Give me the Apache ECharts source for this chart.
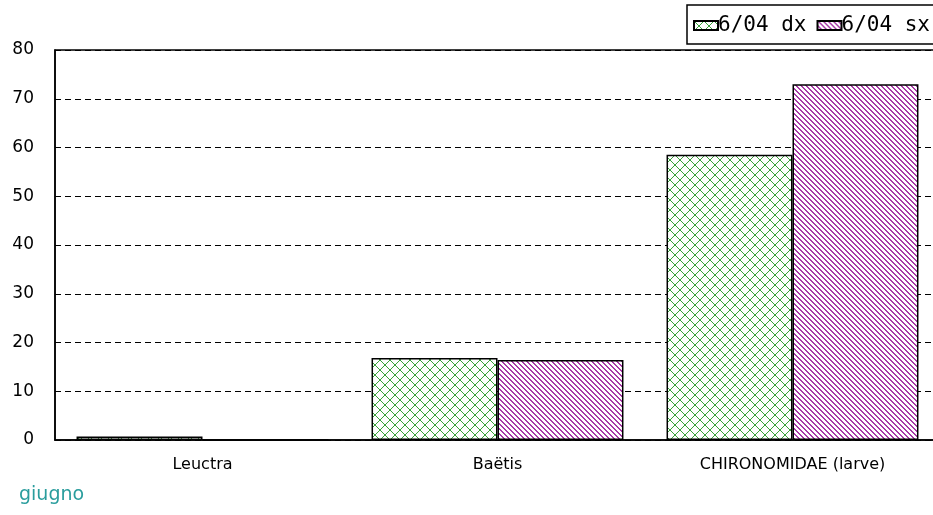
<!DOCTYPE html>
<html>
<head>
<meta charset="utf-8">
<script src="https://cdn.jsdelivr.net/npm/echarts@6/dist/echarts.min.js"></script>
<style>
  html, body { margin: 0; padding: 0; background: #fff; }
  #chart { width: 933px; height: 515px; }
</style>
</head>
<body>
<div id="chart"></div>
<script>
// dati
const categories = ['Leuctra', 'Baëtis', 'CHIRONOMIDAE (larve)'];
const dx = [0.7, 16.8, 58.5];
const sx = [0, 16.4, 73.0];
const yTicks = { min: 0, max: 80, step: 10 };

// pattern tratteggio (stile Excel)
function makeCross() {
    const c = document.createElement('canvas');
    c.width = 10; c.height = 10;
    const ctx = c.getContext('2d');
    ctx.fillStyle = '#fff';
    ctx.fillRect(0, 0, 10, 10);
    ctx.fillStyle = '#3aa23a';
    for (let i = 0; i < 10; i++) {
        ctx.fillRect(i, i, 1, 1);
        ctx.fillRect(9 - i, i, 1, 1);
    }
    return c;
}
function makeDiag() {
    const c = document.createElement('canvas');
    c.width = 5; c.height = 5;
    const ctx = c.getContext('2d');
    ctx.fillStyle = '#fff';
    ctx.fillRect(0, 0, 5, 5);
    ctx.fillStyle = '#a83aa8';
    for (let i = 0; i < 5; i++) {
        ctx.fillRect(i, i, 1, 1);
        ctx.fillRect((i + 1) % 5, i, 1, 1);
    }
    return c;
}

const chart = echarts.init(document.getElementById('chart'), null, { renderer: 'canvas' });

const option = {
    animation: false,
    backgroundColor: '#fff',
    grid: {
        left: 55, top: 50, width: 885, height: 390,
        outerBoundsMode: 'none',
        show: true, borderColor: '#000', borderWidth: 1.5
    },
    legend: {
        left: 687,
        top: 5,
        width: 320,
        orient: 'horizontal',
        itemWidth: 24,
        itemHeight: 9,
        itemGap: 10,
        padding: [10, 6, 8, 6],
        borderColor: '#000',
        borderWidth: 1.5,
        icon: 'rect',
        textStyle: { fontFamily: 'DejaVu Sans Mono', fontSize: 21, color: '#000', padding: [0, 0, 0, -5] },
        data: ['6/04 dx', '6/04 sx']
    },
    xAxis: {
        type: 'category',
        data: categories,
        axisLine: { lineStyle: { color: '#000', width: 1.5 } },
        axisTick: { show: false },
        axisLabel: { color: '#000', fontFamily: 'DejaVu Sans', fontSize: 16, margin: 17 }
    },
    yAxis: {
        type: 'value',
        min: yTicks.min,
        max: yTicks.max,
        interval: yTicks.step,
        axisLine: { show: true, lineStyle: { color: '#000', width: 1.5 } },
        axisTick: { show: false },
        axisLabel: { color: '#000', fontFamily: 'DejaVu Sans', fontSize: 17, margin: 21 },
        splitLine: { lineStyle: { color: '#000', type: [6, 4], width: 1 } }
    },
    series: [
        {
            name: '6/04 dx',
            type: 'bar',
            data: dx,
            barGap: '0%',
            barCategoryGap: '14.6%',
            itemStyle: { color: { image: makeCross(), repeat: 'repeat' }, borderColor: '#000', borderWidth: 1.5 }
        },
        {
            name: '6/04 sx',
            type: 'bar',
            data: sx,
            barGap: '0%',
            barCategoryGap: '14.6%',
            itemStyle: { color: { image: makeDiag(), repeat: 'repeat' }, borderColor: '#000', borderWidth: 1.5 }
        }
    ],
    graphic: [
        {
            type: 'text',
            left: 19,
            top: 486,
            style: { text: 'giugno', fill: '#2a9d9d', fontFamily: 'DejaVu Sans', fontSize: 19 }
        }
    ]
};

chart.setOption(option);
</script>
</body>
</html>
